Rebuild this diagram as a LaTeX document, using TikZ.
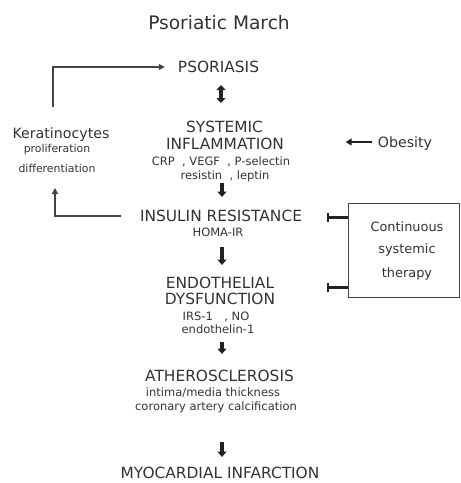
\documentclass[tikz,border=0pt]{standalone}
\usepackage{fontspec}
\setmainfont{DejaVu Sans}
\usetikzlibrary{arrows.meta,calc}
\definecolor{txt}{HTML}{333333}
\definecolor{ln}{HTML}{222222}
\begin{document}
\begin{tikzpicture}[x=1pt,y=-1pt,
  every node/.style={inner sep=0pt,text=txt,text depth=0pt},
  ttl/.style={font=\fontsize{18.6}{20}\selectfont,text height=13.6pt},
  big/.style={font=\fontsize{15.4}{17}\selectfont,text height=11.2pt},
  sml/.style={font=\fontsize{11.5}{13}\selectfont,text height=8.4pt},
  mid/.style={font=\fontsize{14.2}{16}\selectfont,text height=10.4pt},
  kers/.style={font=\fontsize{10.9}{12}\selectfont,text height=8pt},
  boxt/.style={font=\fontsize{12.9}{14}\selectfont,text height=9.4pt},
  fat/.style={line width=3.5pt,draw=ln,-{Triangle[width=9pt,length=5.5pt]}},
  fatd/.style={line width=3.5pt,draw=ln,{Triangle[width=9pt,length=5pt]}-{Triangle[width=9pt,length=5pt]}},
  obs/.style={line width=2.5pt,draw=ln,-{Triangle[width=7pt,length=6pt]}},
  thin/.style={line width=1.2pt,draw=ln!85,-{Triangle[width=6pt,length=6pt]}},
  tbar/.style={line width=2.4pt,draw=ln,-{Bar[width=9pt,line width=2.4pt]}},
  boxst/.style={draw=ln!85,line width=1pt,minimum width=111pt,minimum height=94pt,inner sep=0pt}
]
\useasboundingbox (0,0) rectangle (461,483);

\node[ttl] (title) at (219,23) {Psoriatic March};
\node[big] (psor) at (218.5,67) {PSORIASIS};

\node[big] (sys1) at (224.5,127) {SYSTEMIC};
\node[big] (sys2) at (225,144) {INFLAMMATION};
\node[sml] (sys3) at (221,161) {CRP\ \ , VEGF\ \ , P-selectin};
\node[sml] (sys4) at (225,175) {resistin\ \ , leptin};

\node[mid] (kera) at (61,133) {Keratinocytes};
\node[kers] (prol) at (57,148) {proliferation};
\node[kers] (diff) at (57,168) {differentiation};

\node[mid] (obes) at (405,142) {Obesity};

\node[big] (ins1) at (221,216) {INSULIN RESISTANCE};
\node[sml] (ins2) at (218,232) {HOMA-IR};

\node[big] (end1) at (220,283) {ENDOTHELIAL};
\node[big] (end2) at (220,299) {DYSFUNCTION};
\node[sml] (end3) at (216,316) {IRS-1\quad, NO};
\node[sml] (end4) at (218,329) {endothelin-1};

\node[big] (ath1) at (219.5,376) {ATHEROSCLEROSIS};
\node[sml] (ath2) at (213,392) {intima/media thickness};
\node[sml] (ath3) at (216,406) {coronary artery calcification};

\node[big] (myo) at (220,473) {MYOCARDIAL INFARCTION};

\node[boxst] (box) at (403.5,250) {};
\node[boxt] (bx1) at (407,227) {Continuous};
\node[boxt] (bx2) at (407,249) {systemic};
\node[boxt] (bx3) at (407,273) {therapy};

% main chain arrows
\draw[fatd] ($(psor)+(2.5,18)$) -- ($(sys1)+(-3.5,-24)$);
\draw[fat] ($(sys4)+(-3,8)$) -- ($(ins1)+(1,-19)$);
\draw[fat] ($(ins2)+(4,15)$) -- ($(end1)+(2,-18)$);
\draw[fat] ($(end4)+(4,13)$) -- ($(ath1)+(2.5,-22)$);
\draw[fat] ($(ath3)+(6,36)$) -- ($(myo)+(2,-16)$);

% obesity
\draw[obs] ($(obes.west)+(-6,0)$) -- ($(obes.west)+(-32,0)$);

% feedback loops
\draw[thin] ($(kera)+(-8,-26)$) |- ($(psor.west)+(-13,0)$);
\draw[thin] ($(ins1.west)+(-19,0)$) -| ($(diff)+(-2,20)$);

% therapy inhibitions
\draw[tbar] ($(box.north west)+(0,15)$) -- ++(-21,0);
\draw[tbar] ($(box.north west)+(0,85)$) -- ++(-21,0);
\end{tikzpicture}
\end{document}
